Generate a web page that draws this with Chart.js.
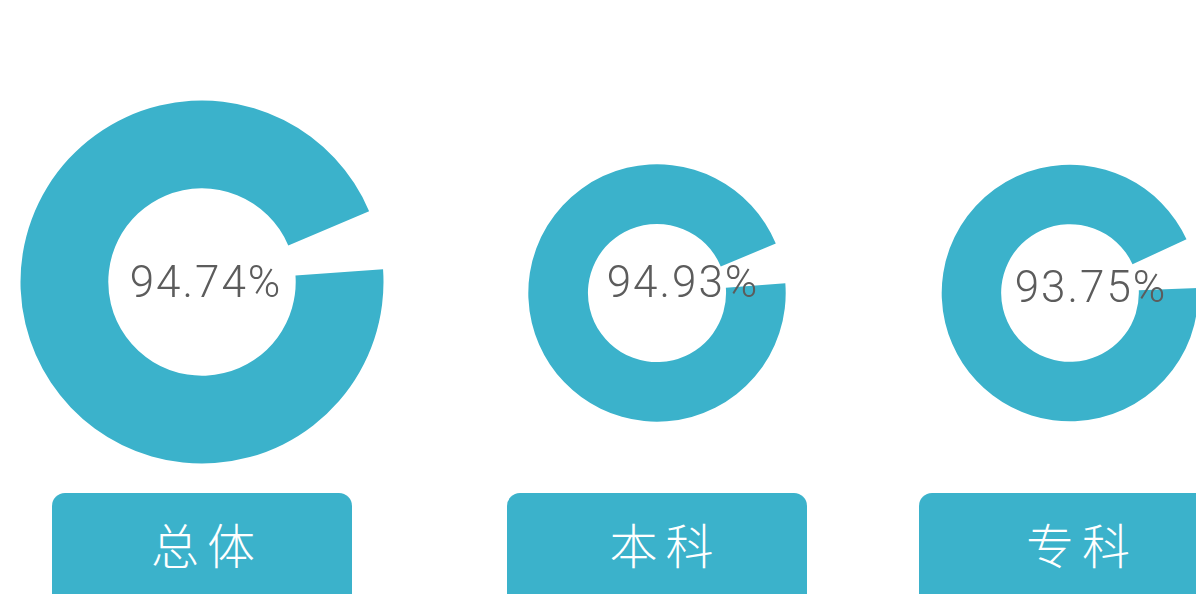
<!DOCTYPE html>
<html lang="zh-CN">
<head>
<meta charset="utf-8">
<title>就业率</title>
<script src="https://cdn.jsdelivr.net/npm/chart.js@4.4.1/dist/chart.umd.min.js"></script>
<style>
  html, body { margin: 0; padding: 0; background: #fff; }
  body { width: 1196px; height: 594px; position: relative; overflow: hidden; }
  canvas.ring { position: absolute; }
  .tag { position: absolute; top: 493px; width: 300px; height: 130px; border-radius: 13px; background: #3bb2cb; }
  .tag span {
    position: absolute; top: 26px; line-height: 48px; font-size: 48px; color: #fff;
    font-family: "Noto Sans CJK SC", sans-serif; font-weight: 300;
    letter-spacing: 8px; white-space: nowrap; transform: translateX(-50%);
  }
</style>
</head>
<body>
<script>
// --- données ---
const categories = ['总体', '本科', '专科'];
const rates = [94.74, 94.93, 93.75];

// --- mise en page (px) ---
const TEAL = '#3bb2cb';
const ringCenters = [[202, 282], [657, 292.5], [1069.5, 292.5]];
const ringRadius  = [181.5, 128.7, 128.3];
const holeRadius  = [95, 70.3, 70.3];
const textPos     = [[205, 297.3], [682, 296.7], [1089.5, 301.7]]; // centre x / ligne de base
const tagLeft     = [51.7, 506.7, 919];
const tagTextX    = [203, 661.5, 1078];
const GAP_CENTER  = -13.5; // angle du vide (deg, canvas)

// texte au centre de l'anneau
const centreText = {
    id: 'centreText',
    afterDatasetsDraw(chart, args, opts) {
        const ctx = chart.ctx;
        ctx.save();
        ctx.font = '300 44px Roboto, "Liberation Sans", sans-serif';
        ctx.fillStyle = '#5c5c5c';
        ctx.textBaseline = 'alphabetic';
        ctx.textAlign = 'left';
        let ls = 0;
        if ('letterSpacing' in ctx) { ctx.letterSpacing = '2px'; ls = 2; }
        const w = ctx.measureText(opts.text).width - ls;
        ctx.fillText(opts.text, opts.x - w / 2, opts.y);
        ctx.restore();
    }
};

categories.forEach((cat, i) => {
    const [cx, cy] = ringCenters[i];
    const size = 2 * Math.ceil(ringRadius[i]) + 4;
    const left = cx - size / 2, top = cy - size / 2;

    const canvas = document.createElement('canvas');
    canvas.className = 'ring';
    canvas.width = size;
    canvas.height = size;
    canvas.style.left = left + 'px';
    canvas.style.top = top + 'px';
    canvas.style.width = size + 'px';
    canvas.style.height = size + 'px';
    document.body.appendChild(canvas);

    const rest = 100 - rates[i];
    new Chart(canvas, {
        type: 'doughnut',
        data: {
            labels: [cat, '其他'],
            datasets: [{
                data: [rates[i], rest],
                backgroundColor: [TEAL, 'rgba(0,0,0,0)'],
                borderWidth: 0,
                hoverOffset: 0
            }]
        },
        options: {
            responsive: false,
            animation: false,
            devicePixelRatio: 1,
            events: [],
            radius: ringRadius[i],
            cutout: holeRadius[i],
            rotation: GAP_CENTER + 90 + rest * 3.6 / 2,
            layout: { padding: 0 },
            plugins: {
                legend: { display: false },
                tooltip: { enabled: false },
                centreText: {
                    text: rates[i].toFixed(2) + '%',
                    x: textPos[i][0] - left,
                    y: textPos[i][1] - top
                }
            }
        },
        plugins: [centreText]
    });

    // étiquette sous l'anneau
    const tag = document.createElement('div');
    tag.className = 'tag';
    tag.style.left = tagLeft[i] + 'px';
    const span = document.createElement('span');
    span.innerText = cat;
    span.style.left = (tagTextX[i] - tagLeft[i] + 4) + 'px';
    tag.appendChild(span);
    document.body.appendChild(tag);
});
</script>
</body>
</html>
